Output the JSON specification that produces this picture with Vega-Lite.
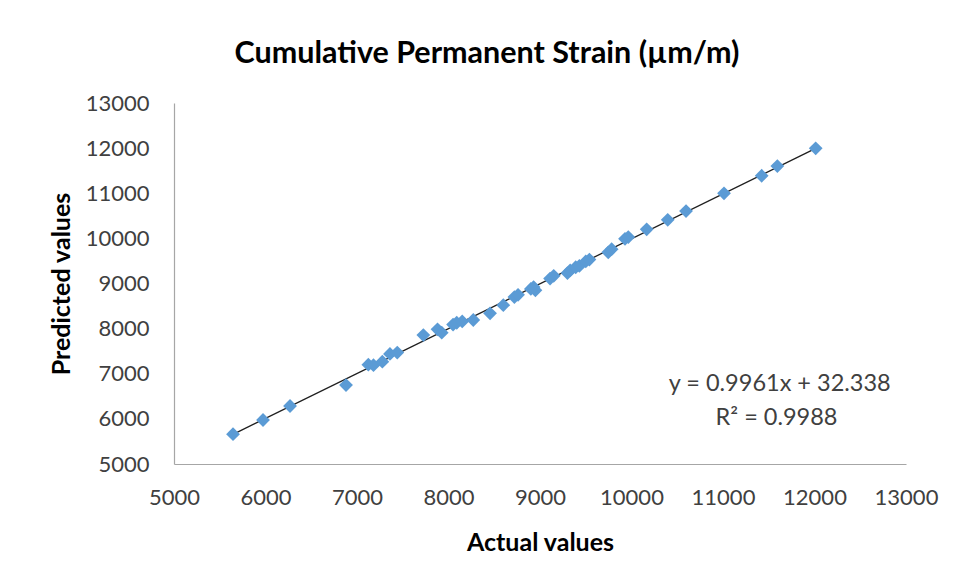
{
  "$schema": "https://vega.github.io/schema/vega-lite/v6.json",
  "width": 732,
  "height": 361,
  "autosize": "none",
  "padding": {"left": 174, "top": 103, "right": 55, "bottom": 117},
  "background": "white",
  "config": {
    "view": {"stroke": null},
    "font": "Lato",
    "axis": {
      "grid": false,
      "ticks": false,
      "labelFlush": false,
      "domainColor": "#A6A6A6",
      "domainWidth": 1.2,
      "labelFont": "Lato",
      "labelFontSize": 22,
      "labelColor": "#404040",
      "titleFont": "Lato",
      "titleFontSize": 25,
      "titleFontWeight": "bold",
      "titleColor": "#000000"
    }
  },
  "title": {
    "text": "Cumulative Permanent Strain (µm/m)",
    "font": "Lato",
    "fontSize": 30.5,
    "fontWeight": "bold",
    "color": "#000000",
    "anchor": "middle",
    "dx": -53,
    "offset": 23
  },
  "datasets": {
    "pts": [
      {"actual": 5645, "predicted": 5660},
      {"actual": 5973, "predicted": 5975},
      {"actual": 6268, "predicted": 6285},
      {"actual": 6880, "predicted": 6750},
      {"actual": 7124, "predicted": 7200},
      {"actual": 7180, "predicted": 7190},
      {"actual": 7277, "predicted": 7267},
      {"actual": 7360, "predicted": 7440},
      {"actual": 7440, "predicted": 7470},
      {"actual": 7725, "predicted": 7858},
      {"actual": 7880, "predicted": 7985},
      {"actual": 7926, "predicted": 7910},
      {"actual": 8050, "predicted": 8090},
      {"actual": 8090, "predicted": 8130},
      {"actual": 8150, "predicted": 8160},
      {"actual": 8271, "predicted": 8191},
      {"actual": 8454, "predicted": 8339},
      {"actual": 8599, "predicted": 8520},
      {"actual": 8720, "predicted": 8700},
      {"actual": 8760, "predicted": 8750},
      {"actual": 8900, "predicted": 8880},
      {"actual": 8950, "predicted": 8850},
      {"actual": 8930, "predicted": 8920},
      {"actual": 9110, "predicted": 9110},
      {"actual": 9150, "predicted": 9170},
      {"actual": 9300, "predicted": 9230},
      {"actual": 9330, "predicted": 9290},
      {"actual": 9390, "predicted": 9360},
      {"actual": 9430, "predicted": 9390},
      {"actual": 9500, "predicted": 9490},
      {"actual": 9540, "predicted": 9530},
      {"actual": 9746, "predicted": 9690},
      {"actual": 9783, "predicted": 9760},
      {"actual": 9929, "predicted": 9990},
      {"actual": 9965, "predicted": 10030},
      {"actual": 10166, "predicted": 10200},
      {"actual": 10396, "predicted": 10410},
      {"actual": 10596, "predicted": 10606},
      {"actual": 11011, "predicted": 10998},
      {"actual": 11423, "predicted": 11388},
      {"actual": 11594, "predicted": 11603},
      {"actual": 12013, "predicted": 11995}
    ],
    "eq": [
      {"actual": 11620, "predicted": 6780, "label": "y = 0.9961x + 32.338"},
      {"actual": 11585, "predicted": 6030, "label": "R² = 0.9988"}
    ]
  },
  "layer": [
    {
      "data": {"name": "pts"},
      "transform": [{"regression": "predicted", "on": "actual"}],
      "mark": {"type": "line", "color": "#1F1F1F", "strokeWidth": 1.3},
      "encoding": {
        "x": {"field": "actual", "type": "quantitative", "scale": {"domain": [5000, 13000], "nice": false}, "title": "Actual values", "axis": {"values": [5000, 6000, 7000, 8000, 9000, 10000, 11000, 12000, 13000], "format": "d", "labelPadding": 23, "titlePadding": 22}},
        "y": {"field": "predicted", "type": "quantitative", "scale": {"domain": [5000, 13000], "nice": false}, "title": "Predicted values", "axis": {"values": [5000, 6000, 7000, 8000, 9000, 10000, 11000, 12000, 13000], "format": "d", "labelPadding": 25, "titlePadding": 11}}
      }
    },
    {
      "data": {"name": "pts"},
      "mark": {"type": "point", "shape": "diamond", "filled": true, "size": 190, "color": "#5B9BD5", "opacity": 1},
      "encoding": {
        "x": {"field": "actual", "type": "quantitative"},
        "y": {"field": "predicted", "type": "quantitative"}
      }
    },
    {
      "data": {"name": "eq"},
      "mark": {"type": "text", "font": "Lato", "fontSize": 23.5, "color": "#404040", "align": "center", "baseline": "middle"},
      "encoding": {
        "x": {"field": "actual", "type": "quantitative"},
        "y": {"field": "predicted", "type": "quantitative"},
        "text": {"field": "label"}
      }
    }
  ]
}
